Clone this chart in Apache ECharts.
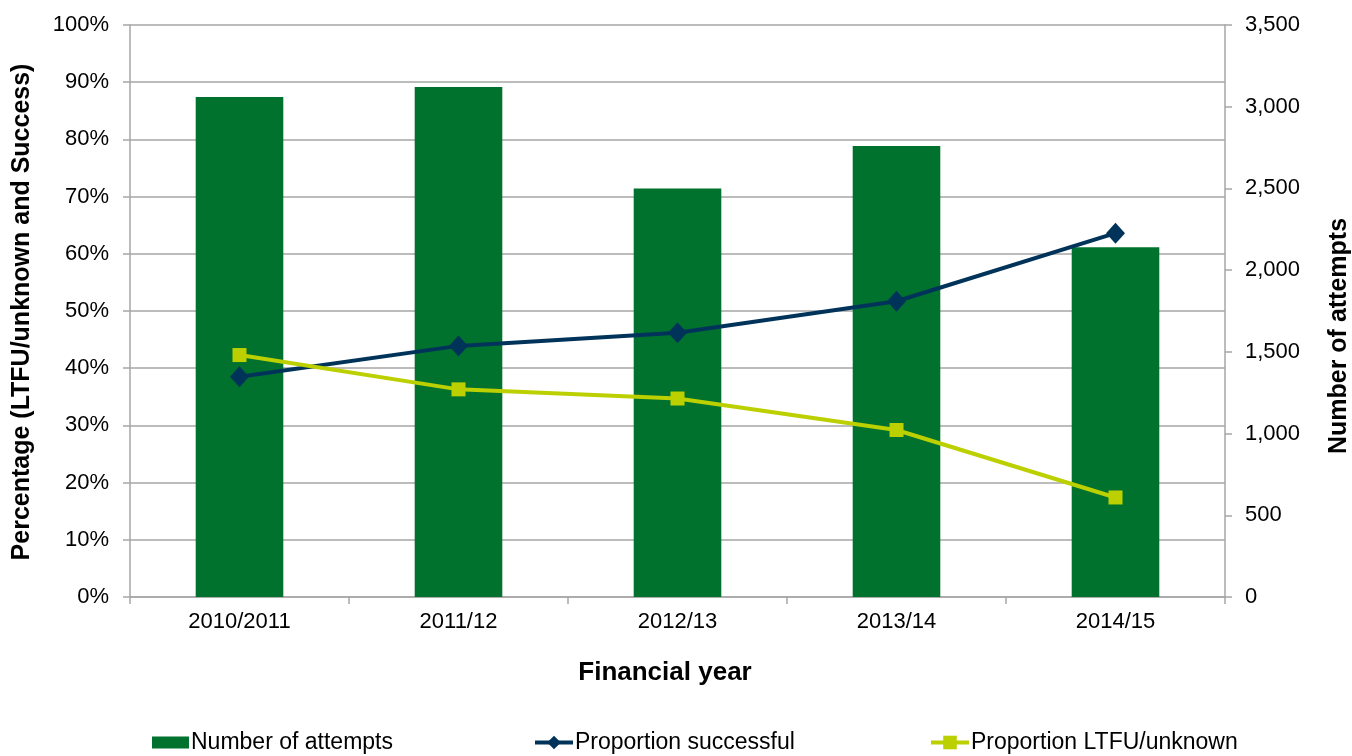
<!DOCTYPE html>
<html>
<head>
<meta charset="utf-8">
<script src="https://cdn.jsdelivr.net/npm/echarts@6/dist/echarts.min.js"></script>
<style>
  html, body { margin: 0; padding: 0; background: #fff; }
  #chart { width: 1352px; height: 756px; }
</style>
</head>
<body>
<div id="chart"></div>
<script>
// Financial years on the category axis
const years = ['2010/2011', '2011/12', '2012/13', '2013/14', '2014/15'];
// Number of attempts per year (right axis)
const attempts = [3060, 3120, 2500, 2760, 2140];
// Proportion successful, percent (left axis)
const successPct = [38.5, 43.9, 46.2, 51.7, 63.6];
// Proportion lost to follow-up / unknown, percent (left axis)
const ltfuPct = [42.3, 36.3, 34.7, 29.2, 17.4];

const FONT = '"Liberation Sans", Arial, sans-serif';
const GRID_GREY = '#A6A6A6';

const chart = echarts.init(document.getElementById('chart'), null, { renderer: 'canvas' });

// one legend block per series so each entry sits at its own spot
function legendAt(left, name, extra) {
  return Object.assign({
    left: left,
    top: 731,
    padding: 0,
    itemWidth: 38,
    itemGap: 0,
    lineStyle: { width: 4 },
    textStyle: { fontFamily: FONT, fontSize: 23, color: '#000', padding: [0, 0, 0, -3] },
    data: [name]
  }, extra);
}

chart.setOption({
  animation: false,
  backgroundColor: '#ffffff',
  textStyle: { fontFamily: FONT, color: '#000' },
  grid: { left: 130, right: 127, top: 25, bottom: 159, containLabel: false },
  legend: [
    legendAt(152, { name: 'Number of attempts', icon: 'rect' }, { itemHeight: 12, itemWidth: 37 }),
    legendAt(533, 'Proportion successful', { itemHeight: 17 }),
    legendAt(929, 'Proportion LTFU/unknown', { itemHeight: 17 })
  ],
  graphic: [
    {
      type: 'text',
      x: 22, y: 312, rotation: Math.PI / 2,
      style: {
        text: 'Percentage (LTFU/unknown and Success)',
        font: 'bold 25px ' + FONT, fill: '#000',
        align: 'center', verticalAlign: 'middle'
      }
    },
    {
      type: 'text',
      x: 1339, y: 336, rotation: Math.PI / 2,
      style: {
        text: 'Number of attempts',
        font: 'bold 25px ' + FONT, fill: '#000',
        align: 'center', verticalAlign: 'middle'
      }
    },
    {
      type: 'text',
      x: 665, y: 673,
      style: {
        text: 'Financial year',
        font: 'bold 26px ' + FONT, fill: '#000',
        align: 'center', verticalAlign: 'middle'
      }
    }
  ],
  xAxis: {
    type: 'category',
    data: years,
    boundaryGap: true,
    axisLine: { lineStyle: { color: GRID_GREY, width: 1.5 } },
    axisTick: { show: true, length: 7, lineStyle: { color: GRID_GREY, width: 1.5 } },
    axisLabel: { fontFamily: FONT, fontSize: 22, color: '#000', margin: 14 }
  },
  yAxis: [
    {
      type: 'value',
      min: 0, max: 100, interval: 10,
      position: 'left',
      axisLine: { show: true, lineStyle: { color: GRID_GREY, width: 1.5 } },
      axisTick: { show: true, length: 7, lineStyle: { color: GRID_GREY, width: 1.5 } },
      axisLabel: { fontFamily: FONT, fontSize: 22, color: '#000', margin: 21, formatter: '{value}%' },
      splitLine: { show: true, lineStyle: { color: GRID_GREY, width: 1.5 } }
    },
    {
      type: 'value',
      min: 0, max: 3500, interval: 500,
      position: 'right',
      axisLine: { show: true, lineStyle: { color: GRID_GREY, width: 1.5 } },
      axisTick: { show: true, length: 7, lineStyle: { color: GRID_GREY, width: 1.5 } },
      axisLabel: {
        fontFamily: FONT, fontSize: 22, color: '#000', margin: 20,
        formatter: v => v.toLocaleString('en-US')
      },
      splitLine: { show: false }
    }
  ],
  series: [
    {
      name: 'Number of attempts',
      type: 'bar',
      yAxisIndex: 1,
      data: attempts,
      barWidth: '40%',
      itemStyle: { color: '#00722D' },
      z: 1
    },
    {
      name: 'Proportion successful',
      type: 'line',
      yAxisIndex: 0,
      data: successPct,
      symbol: 'diamond',
      symbolSize: [19, 21],
      lineStyle: { color: '#00335A', width: 4 },
      itemStyle: { color: '#00335A' },
      z: 3
    },
    {
      name: 'Proportion LTFU/unknown',
      type: 'line',
      yAxisIndex: 0,
      data: ltfuPct,
      symbol: 'rect',
      symbolSize: 14,
      lineStyle: { color: '#BCD000', width: 4 },
      itemStyle: { color: '#BCD000' },
      z: 4
    }
  ]
});
</script>
</body>
</html>
